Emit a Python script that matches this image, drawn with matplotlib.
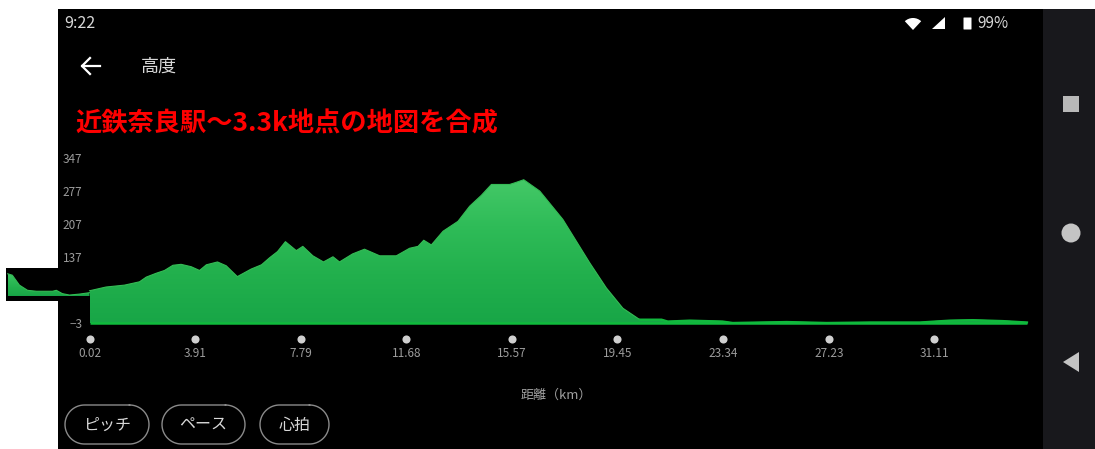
import numpy as np
import matplotlib
matplotlib.use("Agg")
import matplotlib.pyplot as plt
from matplotlib.colors import LinearSegmentedColormap
from matplotlib.patches import Rectangle, FancyBboxPatch, Polygon, Wedge, Circle

plt.rcParams['font.family'] = ['Noto Sans CJK JP', 'DejaVu Sans']

# elevation profile
dist_km = [0.02, 0.63, 1.31, 1.86, 2.11, 2.47, 2.78, 3.09, 3.39, 3.76, 4.07, 4.32, 4.73, 5.05, 5.46,
           5.97, 6.35, 6.65, 6.94, 7.23, 7.63, 7.87, 8.24, 8.63, 8.98, 9.22, 9.70, 10.14, 10.70,
           11.31, 11.80, 12.11, 12.32, 12.60, 13.03, 13.58, 14.01, 14.44, 14.81, 15.48, 15.70,
           16.00, 16.59, 17.44, 18.43, 19.04, 19.65, 20.27, 21.07, 21.30, 22.11, 23.32, 23.69,
           25.68, 27.15, 28.74, 30.58, 31.68, 32.52, 33.63, 34.52]
elev_m = [66, 74, 78, 85, 95, 103, 109, 120, 122, 117, 109, 121, 127, 119, 96,
          112, 121, 136, 149, 170, 151, 160, 140, 127, 138, 127, 144, 154, 140,
          140, 156, 160, 173, 163, 192, 213, 245, 268, 291, 291, 295,
          301, 277, 217, 125, 72, 29, 5, 5, 1, 3, 1, -2,
          0, -2, -1, -1, 3, 4, 2, -1]

# pasted-in piece on the left (own base line)
inset_km = [-2.99, -2.82, -2.56, -2.26, -1.93, -1.34, -1.20, -0.98, -0.72, -0.35, 0.02]
inset_m = [102, 99, 78, 67, 65, 65, 67, 60, 57, 59, 62]
inset_base = 55

x_ticks = [0.02, 3.91, 7.79, 11.68, 15.57, 19.45, 23.34, 27.23, 31.11]
y_ticks = [-3, 137, 207, 277, 347]
buttons = ["ピッチ", "ペース", "心拍"]

W, H = 1095, 449
fig = plt.figure(figsize=(W / 100, H / 100), dpi=100, facecolor='white')

# screen furniture, in pixel coordinates
bg = fig.add_axes([0, 0, 1, 1])
bg.set_xlim(0, W)
bg.set_ylim(H, 0)
bg.axis('off')
bg.add_patch(Rectangle((58, 9), 985, 440, fc='black', ec='none'))
bg.add_patch(Rectangle((1043, 9), 52, 440, fc='#18181c', ec='none'))
bg.add_patch(Rectangle((6, 268), 60, 33, fc='black', ec='none'))

grey = '#d8d8d8'
bg.text(64, 24, "9:22", color=grey, fontsize=11.5, va='center')
bg.text(977, 24, "99%", color=grey, fontsize=11, va='center')
bg.add_patch(Wedge((913, 30), 12, 227, 313, fc='white', ec='none'))
bg.add_patch(Polygon([(932, 29), (945, 29), (945, 17)], fc='white', ec='none'))
bg.add_patch(FancyBboxPatch((964, 18), 7, 11, boxstyle='round,pad=0.5', fc='white', ec='none'))

bg.plot([82, 100], [66, 66], color='white', lw=1.6)
bg.plot([90, 82, 90], [58, 66, 74], color='white', lw=1.6)
bg.text(141, 67, "高度", color=grey, fontsize=13, va='center')
bg.text(75, 124, "近鉄奈良駅～3.3k地点の地図を合成", color='#ff0000', fontsize=18.9,
        fontweight='bold', va='center')
bg.text(556, 395, "距離（km）", color='#a0a0a0', fontsize=9.4, ha='center', va='center')

# pill shaped outlines round the buttons
theta = np.linspace(-np.pi / 2, np.pi / 2, 40)
for label, x0, x1 in zip(buttons, [65, 162, 260], [149, 245, 329]):
    r = 19.5
    px = np.r_[x1 - r + r * np.cos(theta), x0 + r - r * np.cos(theta)[::-1], x1 - r]
    py = np.r_[424.5 + r * np.sin(theta), 424.5 + r * np.sin(theta)[::-1], 405]
    bg.plot(px, py, color='#8a8a8a', lw=1)
    bg.text((x0 + x1) / 2, 425.5, label, color=grey, fontsize=11.5, ha='center', va='center')

bg.add_patch(Rectangle((1063, 96), 16, 16, fc='#b8b8b8', ec='none'))
bg.add_patch(Circle((1071, 233), 9.5, fc='#c4c4c4', ec='none'))
bg.add_patch(Polygon([(1063, 362), (1079, 352), (1079, 372)], fc='#c4c4c4', ec='none'))

# chart
left, right, top, bottom = 89.5, 1027, 158, 323.4
ax = fig.add_axes([left / W, 1 - bottom / H, (right - left) / W, (bottom - top) / H], zorder=2)
ax.patch.set_visible(False)
for s in ax.spines.values():
    s.set_visible(False)

green = LinearSegmentedColormap.from_list('elev', ['#18a647', '#22b04d', '#2fbc58', '#45c968'])
ramp = np.linspace(0, 1, 256).reshape(-1, 1)


def fill_profile(xs, ys, base, vmax):
    poly = Polygon(list(zip(xs, ys)) + [(xs[-1], base), (xs[0], base)], closed=True,
                   fc='none', ec='none', transform=ax.transData)
    ax.add_patch(poly)
    im = ax.imshow(ramp, origin='lower', aspect='auto', cmap=green,
                   extent=[xs[0], xs[-1], base, vmax])
    # the inset lies outside the axes, so the image may not be cut to them
    im.set_clip_box(fig.bbox)
    im.set_clip_path(poly)


fill_profile(dist_km, elev_m, -3, 305)
fill_profile(inset_km, inset_m, inset_base, 105)
low = [i for i, d in enumerate(dist_km) if d >= 20.27]
ax.plot(dist_km, elev_m, color='#35bb55', lw=0.8, clip_on=False)
ax.plot([dist_km[i] for i in low], [elev_m[i] for i in low], color='#12b83e', lw=1.6, clip_on=False)
ax.plot([dist_km[0], dist_km[-1]], [-3, -3], color='#0fba3c', lw=1.8, clip_on=False, solid_capstyle='butt')
ax.plot(inset_km, inset_m, color='#35bb55', lw=0.8, clip_on=False)

ax.set_xlim(0.02, 34.52)
ax.set_ylim(-3, 347)
ax.set_xticks(x_ticks)
ax.set_xticklabels(["%.2f" % v for v in x_ticks])
ax.set_yticks(y_ticks)
ax.tick_params(axis='both', length=0, colors='#9c9c9c', labelsize=8.5)
ax.tick_params(axis='x', pad=17)
ax.tick_params(axis='y', pad=5)
# dots sit just below the base line of the axes
ax.scatter(x_ticks, [-15.5 / (bottom - top)] * len(x_ticks), s=34, color='#cfcfcf', clip_on=False,
           transform=ax.get_xaxis_transform(), zorder=3, linewidths=0)

fig.savefig("out.png", dpi=100, facecolor='white')
